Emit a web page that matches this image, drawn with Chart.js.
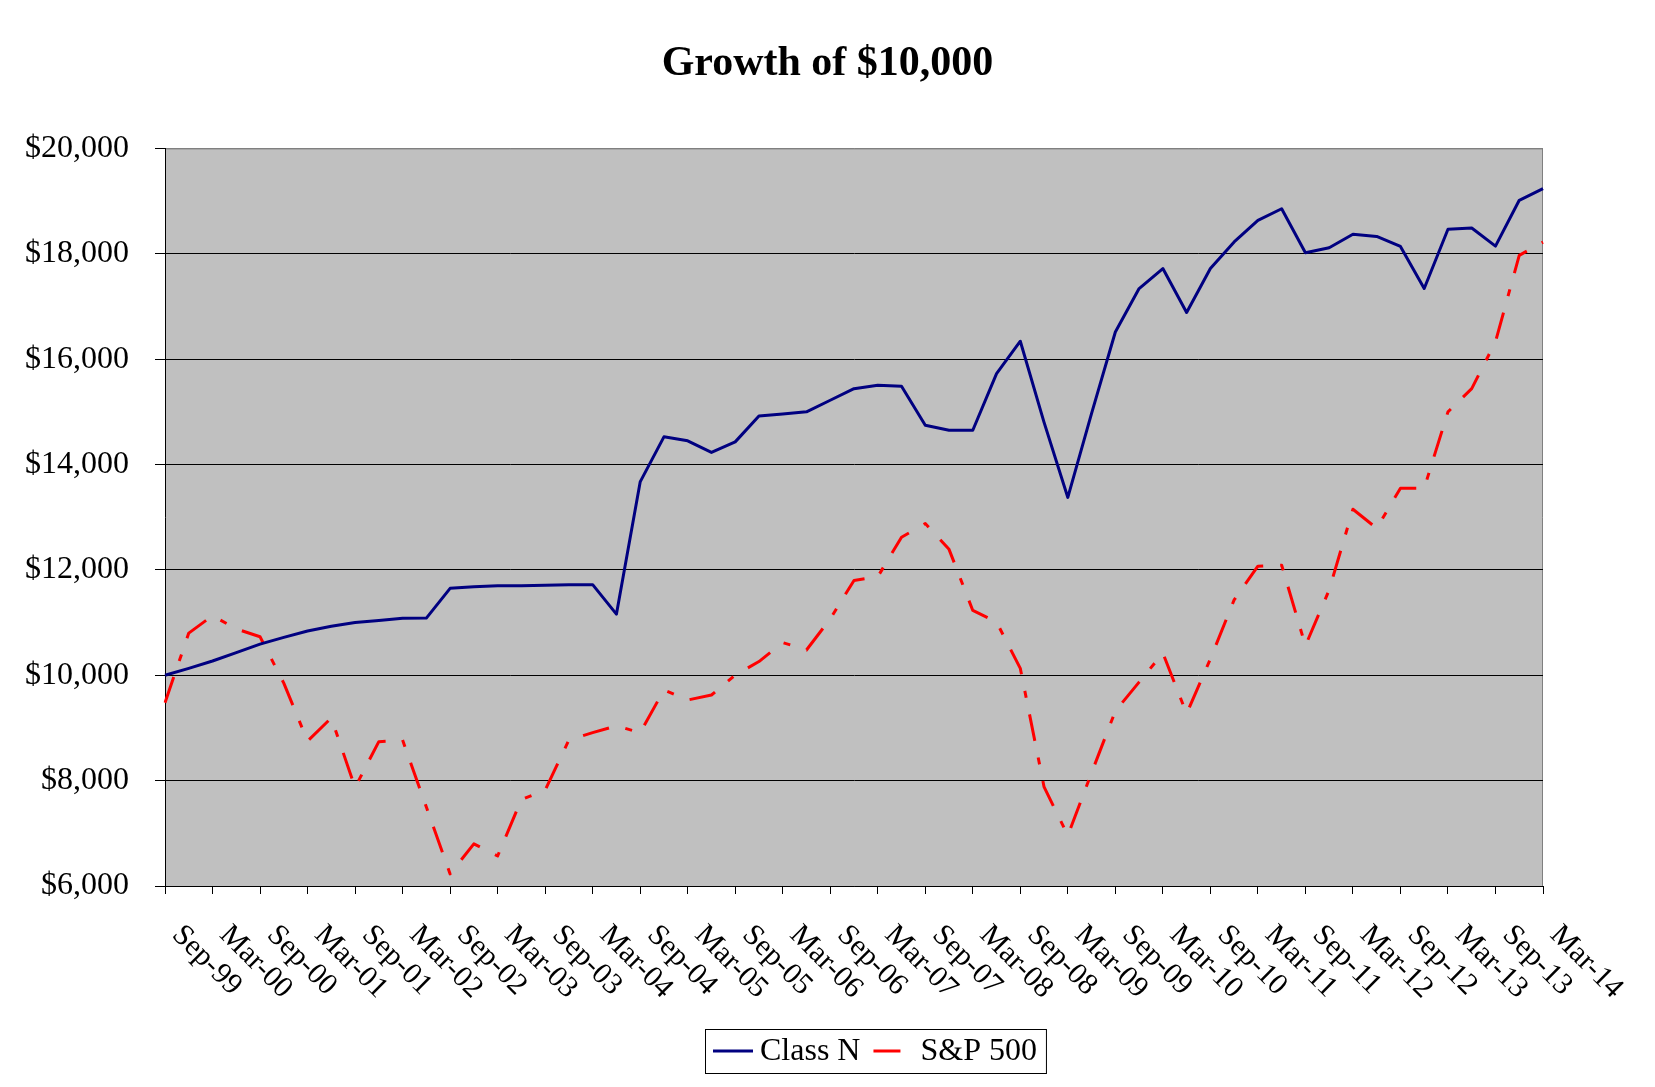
<!DOCTYPE html>
<html>
<head>
<meta charset="utf-8">
<script src="https://cdn.jsdelivr.net/npm/chart.js@4.4.1/dist/chart.umd.min.js"></script>
<style>
  html, body { margin: 0; padding: 0; background: #fff; }
  canvas { display: block; }
</style>
</head>
<body>
<canvas id="growthChart" width="1655" height="1087"></canvas>
<script>
// quarter ends, Sep-99 .. Mar-14 (labels shown every other one)
const quarters = [
  'Sep-99', 'Dec-99', 'Mar-00', 'Jun-00', 'Sep-00', 'Dec-00', 'Mar-01', 'Jun-01',
  'Sep-01', 'Dec-01', 'Mar-02', 'Jun-02', 'Sep-02', 'Dec-02', 'Mar-03', 'Jun-03',
  'Sep-03', 'Dec-03', 'Mar-04', 'Jun-04', 'Sep-04', 'Dec-04', 'Mar-05', 'Jun-05',
  'Sep-05', 'Dec-05', 'Mar-06', 'Jun-06', 'Sep-06', 'Dec-06', 'Mar-07', 'Jun-07',
  'Sep-07', 'Dec-07', 'Mar-08', 'Jun-08', 'Sep-08', 'Dec-08', 'Mar-09', 'Jun-09',
  'Sep-09', 'Dec-09', 'Mar-10', 'Jun-10', 'Sep-10', 'Dec-10', 'Mar-11', 'Jun-11',
  'Sep-11', 'Dec-11', 'Mar-12', 'Jun-12', 'Sep-12', 'Dec-12', 'Mar-13', 'Jun-13',
  'Sep-13', 'Dec-13', 'Mar-14'
];

const classN = [
  10000, 10130, 10270, 10430, 10590, 10720, 10840, 10930,
  11000, 11040, 11080, 11085, 11650, 11680, 11700, 11700,
  11710, 11720, 11720, 11160, 13670, 14525, 14450, 14230,
  14430, 14920, 14960, 15000, 15220, 15440, 15505, 15485,
  14745, 14650, 14650, 15725, 16340, 14800, 13375, 14970,
  16515, 17340, 17720, 16885, 17720, 18225, 18635, 18855,
  18020, 18115, 18370, 18330, 18140, 17340, 18465, 18490,
  18145, 19015, 19235
];

const sp500 = [
  9480, 10800, 11130, 10880, 10730, 9850, 8750, 9190,
  7870, 8740, 8770, 7500, 6230, 6800, 6570, 7640,
  7820, 8770, 8910, 9040, 8910, 9720, 9530, 9625,
  10005, 10260, 10620, 10480, 11070, 11800, 11870, 12620,
  12880, 12390, 11230, 11010, 10130, 7880, 6960, 8150,
  9320, 9870, 10420, 9270, 10310, 11430, 12070, 12090,
  10560, 11620, 13150, 12790, 13550, 13550, 15000, 15440,
  16330, 17970, 18220
];

const yMin = 6000;
const yMax = 20000;
const yStep = 2000;

const serif = '"Liberation Serif", "Times New Roman", serif';

// grey plot area with a thin grey frame on top/right
const plotArea = {
  id: 'plotArea',
  beforeDraw(chart) {
    const { ctx, chartArea: a } = chart;
    ctx.save();
    ctx.fillStyle = '#C0C0C0';
    ctx.fillRect(a.left, a.top, a.right - a.left, a.bottom - a.top);
    ctx.strokeStyle = '#808080';
    ctx.lineWidth = 1;
    ctx.beginPath();
    ctx.moveTo(a.left, a.top + 0.5);
    ctx.lineTo(a.right - 0.5, a.top + 0.5);
    ctx.lineTo(a.right - 0.5, a.bottom);
    ctx.stroke();
    ctx.restore();
  }
};

// category labels slanting down to the right
const slantLabels = {
  id: 'slantLabels',
  afterDraw(chart) {
    const { ctx } = chart;
    const x = chart.scales.x;
    ctx.save();
    ctx.font = '30px ' + serif;
    ctx.fillStyle = '#000';
    ctx.textAlign = 'left';
    ctx.textBaseline = 'alphabetic';
    quarters.forEach((q, i) => {
      if (i % 2) return;
      const px = x.getPixelForValue(i);
      ctx.save();
      ctx.translate(px + 6, x.top + 50);
      ctx.rotate(Math.PI / 4);
      ctx.fillText(q, 0, 0);
      ctx.restore();
    });
    ctx.restore();
  }
};

// boxed legend below the chart
const boxLegend = {
  id: 'boxLegend',
  afterDraw(chart) {
    const { ctx } = chart;
    const sets = chart.data.datasets;
    const y = 1051;
    let cx = 713;
    ctx.save();
    ctx.font = '32px ' + serif;
    ctx.textBaseline = 'middle';
    ctx.textAlign = 'left';
    const start = cx;
    sets.forEach((ds, i) => {
      ctx.strokeStyle = ds.borderColor;
      ctx.lineWidth = ds.borderWidth;
      ctx.setLineDash(ds.borderDash || []);
      ctx.beginPath();
      ctx.moveTo(cx, y);
      ctx.lineTo(cx + 40, y);
      ctx.stroke();
      ctx.setLineDash([]);
      ctx.fillStyle = '#000';
      ctx.fillText(ds.label, cx + 47, y + 1);
      cx += 47 + ctx.measureText(ds.label).width;
      if (i < sets.length - 1) cx += 13;
    });
    ctx.strokeStyle = '#000';
    ctx.lineWidth = 1;
    ctx.strokeRect(start - 7.5, 1029.5, cx - start + 17, 44);
    ctx.restore();
  }
};

new Chart(document.getElementById('growthChart').getContext('2d'), {
  type: 'line',
  data: {
    labels: quarters,
    datasets: [{
      label: 'Class N',
      data: classN,
      borderColor: '#000080',
      borderWidth: 3,
      borderJoinStyle: 'round',
      pointRadius: 0,
      tension: 0,
      fill: false
    }, {
      label: 'S&P 500',
      data: sp500,
      borderColor: '#FF0000',
      borderWidth: 3,
      borderDash: [27, 17, 7, 17],
      borderJoinStyle: 'round',
      pointRadius: 0,
      tension: 0,
      fill: false
    }]
  },
  options: {
    responsive: false,
    animation: false,
    devicePixelRatio: 1,
    layout: { padding: 0 },
    plugins: {
      legend: { display: false },
      tooltip: { enabled: false },
      title: {
        display: true,
        text: 'Growth of $10,000',
        color: '#000',
        font: { family: serif, size: 42, weight: 'bold' },
        padding: { top: 39, bottom: 59 }
      }
    },
    scales: {
      x: {
        offset: false,
        ticks: { display: false, autoSkip: false },
        grid: {
          drawOnChartArea: false,
          drawTicks: true,
          tickLength: 8,
          color: ctx => ctx.index % 2 === 0 ? '#000' : 'rgba(0,0,0,0)',
          tickColor: ctx => ctx.index % 2 === 0 ? '#000' : 'rgba(0,0,0,0)'
        },
        border: { color: '#000', width: 1 },
        afterFit: s => { s.height = 201; }
      },
      y: {
        min: yMin,
        max: yMax,
        ticks: {
          stepSize: yStep,
          color: '#000',
          padding: 26,
          font: { family: serif, size: 32 },
          callback: v => '$' + v.toLocaleString('en-US')
        },
        grid: {
          color: ctx => ctx.tick && ctx.tick.value === yMax ? '#808080' : '#000',
          tickColor: '#000',
          tickLength: 10,
          lineWidth: 1
        },
        border: { color: '#000', width: 1 },
        afterFit: s => { s.width = 165; }
      },
      // empty right-hand margin so the title stays centred on the page
      margin: {
        position: 'right',
        display: true,
        ticks: { display: false },
        grid: { display: false, drawTicks: false },
        border: { display: false },
        afterFit: s => { s.width = 112; }
      }
    }
  },
  plugins: [plotArea, slantLabels, boxLegend]
});
</script>
</body>
</html>
